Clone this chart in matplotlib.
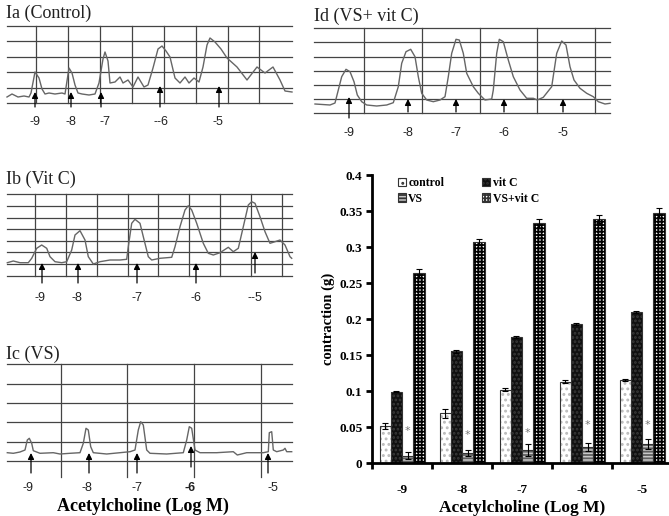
import matplotlib
matplotlib.use("Agg")
import matplotlib.pyplot as plt
import numpy as np

plt.rcParams['hatch.linewidth'] = 1.3

W, H = 669, 516

# ---- bar chart data ----
doses = ['-9', '-8', '-7', '-6', '-5']
control = [0.051, 0.069, 0.102, 0.113, 0.115]
control_err = [0.004, 0.006, 0.002, 0.002, 0.001]
vitc = [0.099, 0.155, 0.175, 0.193, 0.210]
vitc_err = [0.001, 0.002, 0.001, 0.002, 0.001]
vs = [0.010, 0.014, 0.018, 0.022, 0.026]
vs_err = [0.005, 0.004, 0.008, 0.006, 0.007]
vsvitc = [0.264, 0.307, 0.333, 0.339, 0.347]
vsvitc_err = [0.005, 0.004, 0.006, 0.006, 0.007]
star_y = [0.045, 0.039, 0.041, 0.053, 0.053]

# ---- recording traces (local pixel units) ----
ia_x = [0, 5, 11, 17, 22, 24, 28, 32, 35, 38, 42, 48, 55, 58, 62, 65, 68, 71, 75, 82, 88, 92, 96,
        98, 101, 103, 108, 113, 116, 121, 126, 131, 137, 141, 146, 151, 155, 159, 163, 168,
        173, 178, 182, 187, 192, 196, 200, 203, 208, 214, 220, 230, 240, 250, 258, 266, 273,
        278, 285]
ia_y = [6, 9, 6, 7, 6, 10, 31, 25, 14, 9, 10, 9, 10, 9, 35, 30, 18, 10, 9, 8, 9, 20, 44,
        51, 42, 20, 21, 26, 20, 23, 16, 26, 16, 18, 35, 54, 57, 52, 46, 25,
        20, 26, 20, 25, 21, 36, 58, 65, 61, 54, 45, 36, 23, 36, 30, 36, 23,
        12, 11]
ia_grid_h = [0, 15, 31, 46, 62, 77]
ia_grid_v = [29, 61, 93, 125, 157, 189, 221, 252]
ia_arrows = [28, 64, 94, 153, 212]
ia_heads = [11, 11, 11, 17, 17]
ia_tails = [-4, -4, -4, -4, -4]
ia_lab_x = [28, 64, 98, 154, 211]
ia_labels = ['-9', '-8', '-7', '--6', '-5']

ib_x = [0.3, 6.3, 13, 21.3, 24.7, 29.7, 34.7, 39.7, 43, 48, 54.7, 59.7, 64.7, 68, 73, 78, 81.3,
        86.3, 93, 103, 113, 119.7, 121.3, 124.7, 128, 133, 136.3, 141.3, 144.7, 153, 164.7,
        168, 173, 178, 181.3, 184.7, 189.7, 193, 196.3, 201.3, 206.3, 213, 221.3, 226.3,
        231.3, 236.3, 241.3, 244.7, 248, 253, 258, 263, 268, 273, 278, 283, 284.7]
ib_y = [13.3, 15, 13.3, 13.3, 17.7, 27.7, 31, 27.7, 19.3, 14.3, 13.3, 14.3, 26, 41, 45.3, 36, 19.3,
        12, 14.3, 16, 16, 16.7, 29.3, 52.7, 56.7, 52.7, 39.3, 19.3, 16, 17.7, 18.7,
        29.3, 49.3, 66, 70.3, 66, 52.7, 42.7, 32.7, 22.7, 21, 23.3, 28.7, 24.3,
        27.7, 49.3, 71, 74.3, 72.7, 59.3, 44.3, 32.7, 34.3, 36, 31, 19.3, 17.7]
ib_grid_h = [0, 12, 24, 35, 47, 58, 70, 82]
ib_grid_v = [28, 59, 90, 121, 151, 182, 213, 244, 275]
ib_arrows = [35, 71, 130, 189, 248]
ib_heads = [13, 13, 13, 13, 24]
ib_tails = [-7, -7, -7, -7, 3]
ib_lab_x = [33, 70, 130, 189, 248]
ib_labels = ['-9', '-8', '-7', '-6', '--5']

ic_x = [0.3, 6.3, 13, 18, 20.3, 22.3, 24.7, 26.3, 33, 46.3, 53, 63, 73, 76.3, 79, 81.3, 83.7,
        86.3, 99.7, 113, 123, 128, 131.3, 133.7, 136.3, 139.7, 143, 159.7, 176.3, 179.7,
        182.3, 184.7, 188, 193, 209.7, 226.3, 230.3, 239.7, 256.3, 261.3, 262.3, 264.7,
        266.3, 269.7, 276.3, 278, 279.7, 284.7]
ic_y = [8.3, 7.7, 9, 11, 21, 22.7, 17.7, 10.3, 7.7, 8.3, 7, 7.7, 8.3, 17.7, 32.7, 31, 14.3,
        8.3, 7, 8.3, 9.3, 11, 31, 39.3, 36, 11, 7.7, 7, 8.3, 21,
        34.3, 32.7, 11, 8.3, 8.3, 9.3, 6, 8.3, 8.3, 9.3, 28.3, 29.3,
        11, 9.3, 11, 12.7, 9.3, 9.3]
ic_grid_h = [0, 19, 39, 58, 77, 97]
ic_grid_v = [54, 120, 187, 254]
ic_arrows = [24, 82, 130, 184, 261]
ic_heads = [8, 8, 8, 15, 8]
ic_tails = [-12, -12, -12, -6, -12]
ic_lab_x = [21, 80, 130, 183, 266]
ic_labels = ['-9', '-8', '-7', '-6', '-5']

id_x = [1, 16, 21, 24.3, 27.7, 32, 36, 40, 43.3, 47.7, 52.7, 62.7, 72.7, 79.3, 84.3, 87.7, 92,
        96.7, 101, 104.3, 107.7, 112.7, 119.3, 126, 131, 134.3, 137.7, 142, 145.3, 149.3,
        152.7, 156, 159.3, 164.3, 171, 177.7, 179.3, 182.7, 185.3, 189.3, 194.3, 199.3, 206,
        212.7, 219.3, 223.3, 229.3, 237.7, 242.7, 247.7, 252, 256, 260, 266, 272.7, 279.3,
        284.3, 291, 296]
id_y = [9, 8, 10, 23, 36.3, 43.7, 41.3, 31.3, 18, 11.3, 8, 7, 8, 10.3, 26.3, 49.7, 61.3,
        63.7, 56.3, 36.3, 19.7, 13, 11.3, 13, 16.3, 36.3, 59.7, 73.7, 73, 59.7,
        39.7, 33, 26.3, 19.7, 13, 14, 23, 59.7, 73.7, 71.3, 53, 36.3, 23,
        14.7, 14.7, 13, 15.7, 26.3, 59.7, 72, 68, 46.3, 33, 24.7, 19.7, 16.3,
        11.3, 9, 9.7]
id_grid_h = [0, 14, 28, 42, 56, 71, 85]
id_grid_v = [50, 108, 166, 223, 281]
id_arrows = [35, 94, 142, 190, 249]
id_heads = [16, 14, 14, 14, 14]
id_tails = [-5, 1, 1, 1, 1]
id_labels = ['-9', '-8', '-7', '-6', '-5']

fig = plt.figure(figsize=(W / 100, H / 100), dpi=100)


def px_axes(left, top, right, bottom):
    return fig.add_axes([left / W, 1 - bottom / H, (right - left) / W, (bottom - top) / H])


def trace_panel(box, title, title_xy, tx, ty, gh, gv, arrows, heads, tails,
                lab_x, labels, lab_y, vline_low=0, bold_label=None):
    left, top, right, bottom = box
    ax = px_axes(left, top, right, bottom)
    width = right - left
    ax.set_xlim(0, width)
    ax.set_ylim(0, gh[-1])
    ax.axis('off')
    for h in gh:
        ax.plot([0, width], [h, h], color='#444444', lw=0.9, clip_on=False)
    for v in gv:
        ax.plot([v, v], [vline_low, gh[-1]], color='#444444', lw=0.9, clip_on=False)
    ax.plot(tx, ty, color='#666666', lw=1.0, clip_on=False)
    for x, hd, tl in zip(arrows, heads, tails):
        ax.annotate('', xy=(x, hd), xytext=(x, tl), annotation_clip=False,
                    arrowprops=dict(arrowstyle='-|>', color='black', lw=0.9,
                                    mutation_scale=9, shrinkA=0, shrinkB=0))
    for i, (x, lab) in enumerate(zip(lab_x, labels)):
        ax.text(x, lab_y, lab, ha='center', va='center', fontsize=9,
                family='Liberation Sans', color='#222222',
                fontweight='bold' if i == bold_label else 'normal', clip_on=False)
    fig.text(title_xy[0] / W, 1 - title_xy[1] / H, title, fontsize=13,
             family='Liberation Serif', ha='left', va='center', color='#222222')
    return ax


trace_panel((7, 26, 292, 103), 'Ia (Control)', (6, 13), ia_x, ia_y, ia_grid_h, ia_grid_v,
            ia_arrows, ia_heads, ia_tails, ia_lab_x, ia_labels, -19)
trace_panel((314, 28, 610, 113), 'Id (VS+ vit C)', (314, 16), id_x, id_y, id_grid_h, id_grid_v,
            id_arrows, id_heads, id_tails, id_arrows, id_labels, -20)
trace_panel((7, 194, 292, 276), 'Ib (Vit C)', (6, 179), ib_x, ib_y, ib_grid_h, ib_grid_v,
            ib_arrows, ib_heads, ib_tails, ib_lab_x, ib_labels, -22)
trace_panel((7, 364, 292, 461), 'Ic (VS)', (6, 354), ic_x, ic_y, ic_grid_h, ic_grid_v,
            ic_arrows, ic_heads, ic_tails, ic_lab_x, ic_labels, -27, vline_low=-16,
            bold_label=3)
fig.text(143 / W, 1 - 506 / H, 'Acetylcholine (Log M)', fontsize=13, fontweight='bold',
         family='Liberation Serif', ha='center', va='center')

# ---- bar chart ----
ax = px_axes(372, 175, 672, 463)
x = np.arange(len(doses))
bw = 0.1875
series = [
    ('control', control, control_err, 'white', '...', '#bbbbbb'),
    ('vit C', vitc, vitc_err, '#101010', '....', '#3a3a3a'),
    ('VS', vs, vs_err, '#c8c8c8', '-----', '#606060'),
    ('VS+vit C', vsvitc, vsvitc_err, 'white', '+++++', '#000000'),
]
handles = {}
for k, (name, vals, errs, fc, hatch, hc) in enumerate(series):
    pos = x + (k - 1.5) * bw
    ax.bar(pos, vals, bw, color=fc, edgecolor=hc, hatch=hatch, linewidth=0)
    ax.bar(pos, vals, bw, fill=False, edgecolor='#333333', linewidth=0.8)
    ax.errorbar(pos, vals, yerr=errs, fmt='none', ecolor='black', elinewidth=0.8,
                capsize=2.5, capthick=0.8)
    handles[name] = plt.Rectangle((0, 0), 1, 1, facecolor=fc, edgecolor='#333333',
                                  hatch=hatch, linewidth=0.8)

for xi, sy in zip(x + 0.5 * bw, star_y):
    ax.text(xi, sy, '*', ha='center', va='center', fontsize=8, color='#777777')

ax.set_xlim(-0.5, len(doses) - 0.5)
ax.set_ylim(0, 0.4)
ax.set_yticks(np.arange(0, 0.41, 0.05))
ax.set_yticklabels(['0', '0.05', '0.1', '0.15', '0.2', '0.25', '0.3', '0.35', '0.4'])
ax.set_xticks(x)
ax.set_xticklabels(doses)
ax.set_xticks(np.arange(-0.5, len(doses), 1.0), minor=True)
ax.tick_params(axis='x', which='major', length=0, pad=15)
ax.tick_params(axis='x', which='minor', length=4, width=2, direction='out')
ax.tick_params(axis='y', length=4, width=2, direction='out', pad=3)
for lab in ax.get_xticklabels() + ax.get_yticklabels():
    lab.set_family('Liberation Serif')
    lab.set_fontweight('bold')
    lab.set_fontsize(9.5)
for s in ['top', 'right']:
    ax.spines[s].set_visible(False)
for s in ['left', 'bottom']:
    ax.spines[s].set_linewidth(2)
ax.set_ylabel('contraction (g)', family='Liberation Serif', fontweight='bold', fontsize=10.5,
              labelpad=3)
ax.set_xlabel('Acetylcholine (Log M)', family='Liberation Serif', fontweight='bold',
              fontsize=12.5, labelpad=3)

order = ['control', 'VS', 'vit C', 'VS+vit C']
ax.legend([handles[n] for n in order], order, ncol=2, frameon=False, loc='upper left',
          bbox_to_anchor=(0.05, 1.03), handlelength=0.7, handleheight=0.7,
          handletextpad=0.2, columnspacing=3.2, labelspacing=0.3,
          prop={'family': 'Liberation Serif', 'weight': 'bold', 'size': 8.5})

fig.savefig('out.png', dpi=100)
